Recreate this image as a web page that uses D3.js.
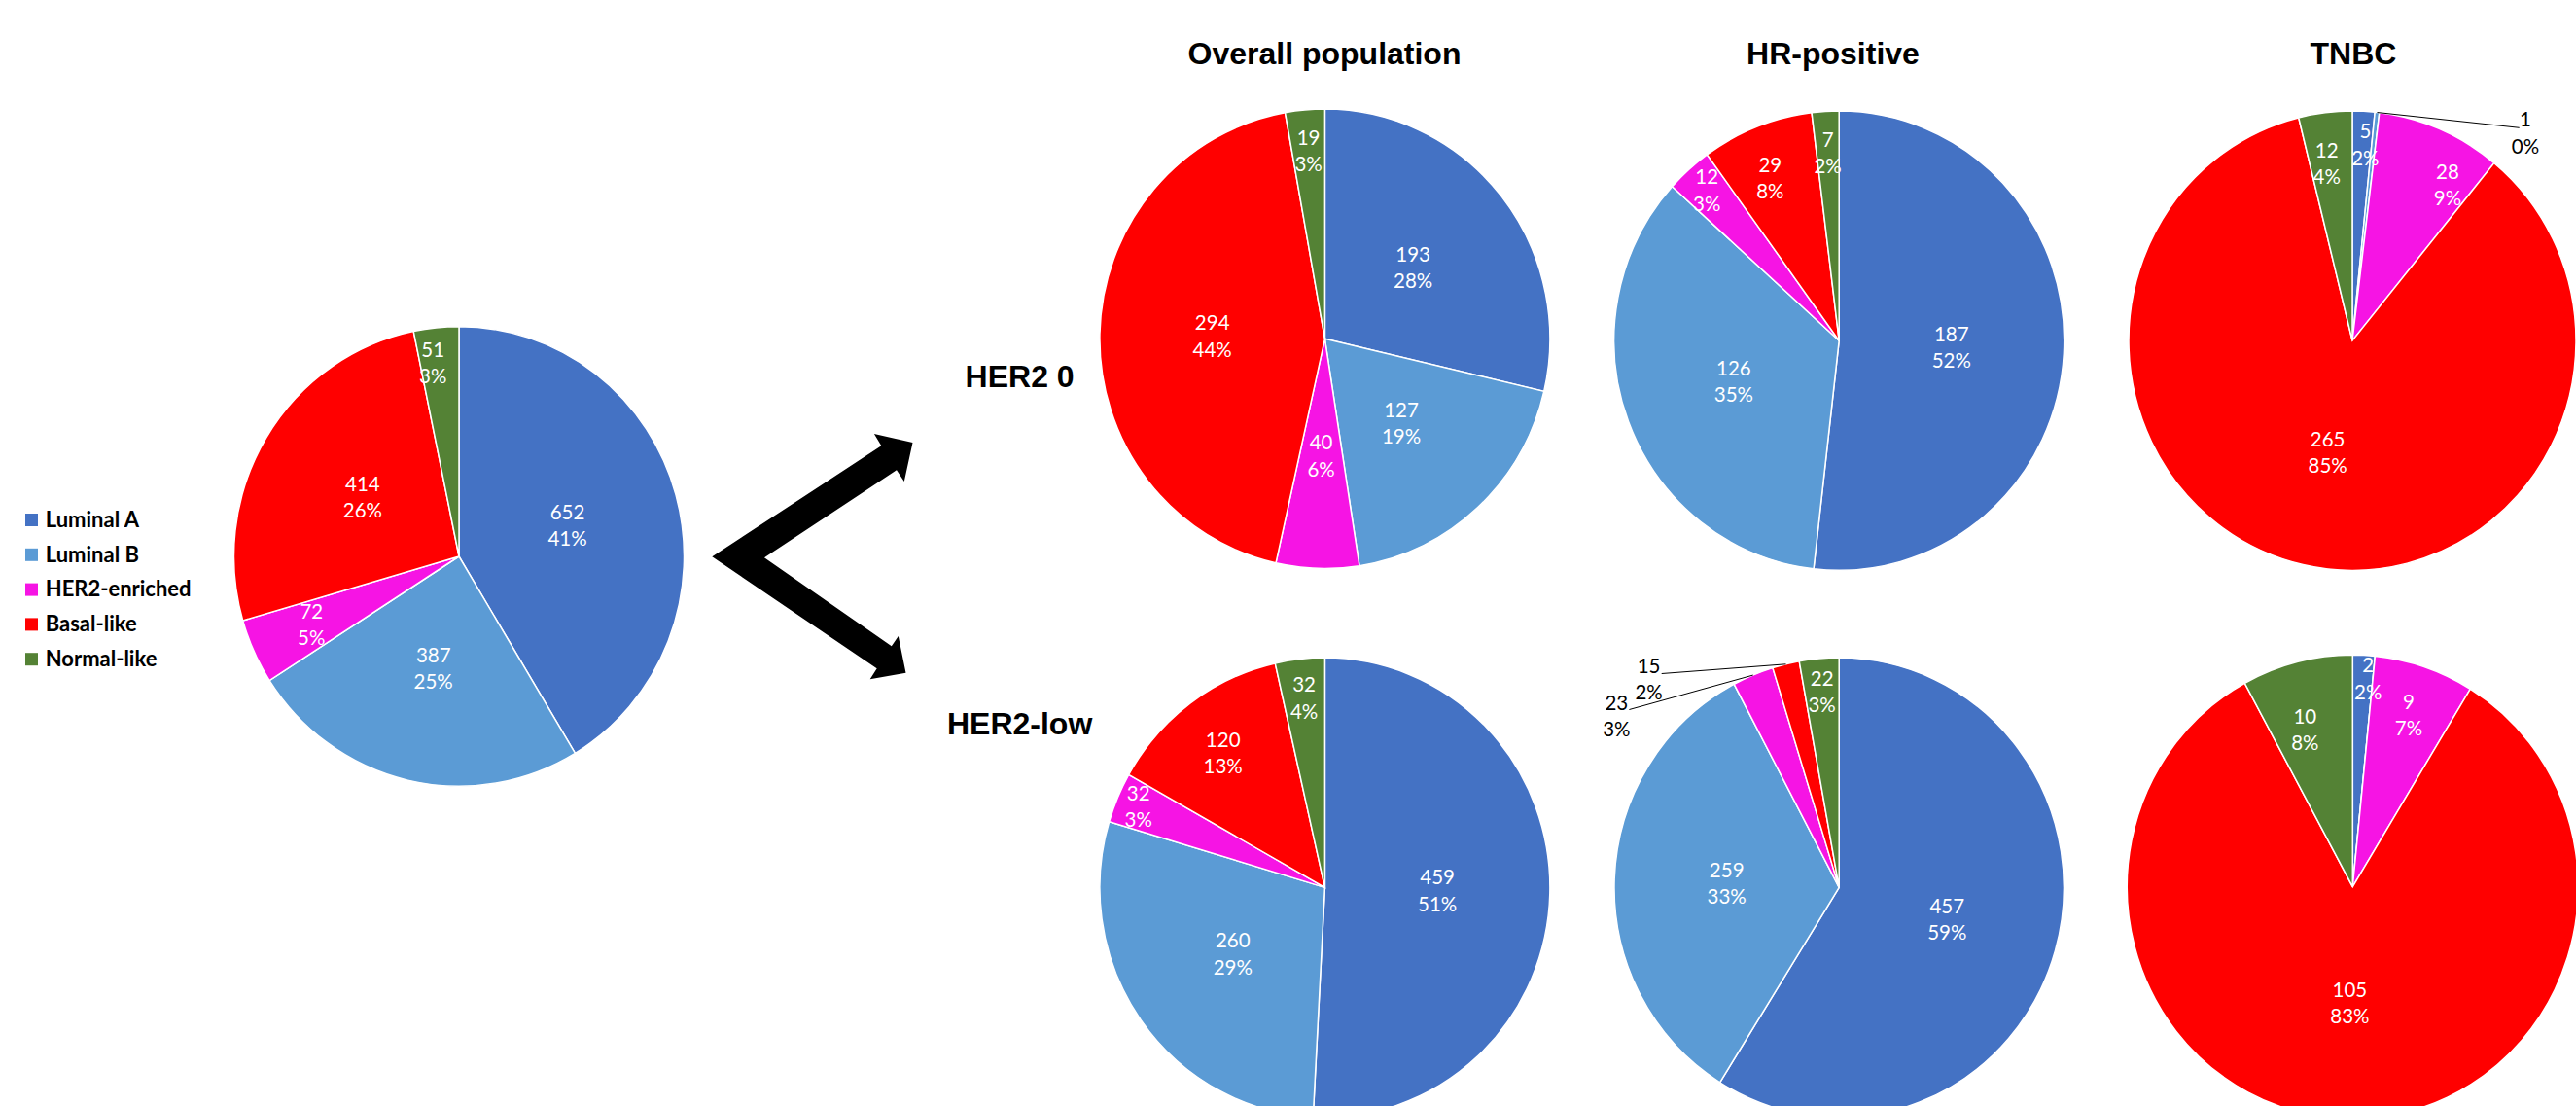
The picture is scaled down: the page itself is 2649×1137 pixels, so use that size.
<!DOCTYPE html>
<html>
<head>
<meta charset="utf-8">
<script src="https://cdn.jsdelivr.net/npm/d3@7"></script>
<style>
  html, body { margin: 0; padding: 0; background: #fff; overflow: hidden; }
  svg { display: block; }
</style>
</head>
<body>
<svg id="chart" width="2649" height="1137"></svg>
<script>
// ---- Data ---------------------------------------------------------------
const subtypes = ["Luminal A", "Luminal B", "HER2-enriched", "Basal-like", "Normal-like"];

// Whole cohort
const allCounts = [652, 387, 72, 414, 51];
const allPct    = ["41%", "25%", "5%", "26%", "3%"];

// HER2 0
const her2ZeroOverall    = [193, 127, 40, 294, 19];
const her2ZeroOverallPct = ["28%", "19%", "6%", "44%", "3%"];
const her2ZeroHR         = [187, 126, 12, 29, 7];
const her2ZeroHRPct      = ["52%", "35%", "3%", "8%", "2%"];
const her2ZeroTNBC       = [5, 1, 28, 265, 12];
const her2ZeroTNBCPct    = ["2%", "0%", "9%", "85%", "4%"];

// HER2-low
const her2LowOverall    = [459, 260, 32, 120, 32];
const her2LowOverallPct = ["51%", "29%", "3%", "13%", "4%"];
const her2LowHR         = [457, 259, 23, 15, 22];
const her2LowHRPct      = ["59%", "33%", "3%", "2%", "3%"];
const her2LowTNBC       = [2, 0, 9, 105, 10];
const her2LowTNBCPct    = ["2%", "0%", "7%", "83%", "8%"];

const columnTitles = ["Overall population", "HR-positive", "TNBC"];
const rowTitles    = ["HER2 0", "HER2-low"];

// ---- Styles -------------------------------------------------------------
const color = d3.scaleOrdinal()
  .domain(subtypes)
  .range(["#4472C4", "#5B9BD5", "#F614E4", "#FF0000", "#548235"]);

const TITLE_FONT = "'Liberation Sans', Arial, sans-serif";
const LABEL_FONT = "Lato, 'Open Sans', sans-serif";
const LABEL = { font: 20.5, gap: 27.4, cap: 14.7 };

const svg = d3.select("#chart");

// Draw one pie: slices clockwise from 12 o'clock, two-line labels
// (count, share) placed along each slice's bisector.
function drawPie(parent, cfg) {
  const { values, pcts, cx, cy, rx, ry, place, font, gap, cap, outside } = cfg;
  const arcs = d3.pie().sort(null).value(d => d)(values);
  const g = parent.append("g").attr("transform", `translate(${cx},${cy})`);
  const arc = d3.arc().innerRadius(0).outerRadius(rx);

  g.append("g")
    .attr("transform", `scale(1,${ry / rx})`)
    .selectAll("path")
    .data(arcs)
    .join("path")
    .attr("d", arc)
    .attr("fill", (d, i) => color(subtypes[i]))
    .attr("stroke", "#fff")
    .attr("stroke-width", 1.5)
    .attr("vector-effect", "non-scaling-stroke");

  arcs.forEach((d, i) => {
    if (d.value === 0) return;
    const mid = (d.startAngle + d.endAngle) / 2;
    const o = outside && outside[i];
    let x, y1, fill;
    if (o) {
      // label outside the pie, joined to the slice rim by a leader line
      const sx = rx * Math.sin(mid), sy = -ry * Math.cos(mid);
      g.append("line")
        .attr("x1", sx).attr("y1", sy)
        .attr("x2", o.lx).attr("y2", o.ly)
        .attr("stroke", "#000").attr("stroke-width", 1);
      x = o.x; y1 = o.y; fill = "#000";
    } else {
      const p = place[i];
      const r = Array.isArray(p) ? p[0] : p;
      const a = mid + (Array.isArray(p) ? p[1] * Math.PI / 180 : 0);
      x = rx * r * Math.sin(a);
      const yc = -ry * r * Math.cos(a);
      y1 = yc - (gap + cap) / 2 + cap;
      fill = "#fff";
    }
    const t = g.append("text")
      .attr("text-anchor", "middle")
      .attr("font-family", LABEL_FONT)
      .attr("font-size", font)
      .attr("fill", fill);
    t.append("tspan").attr("x", x).attr("y", y1).text(d.value);
    t.append("tspan").attr("x", x).attr("y", y1 + gap).text(pcts[i]);
  });
}

// ---- Whole cohort with legend ------------------------------------------
drawPie(svg, Object.assign({
  values: allCounts, pcts: allPct,
  cx: 472, cy: 572, rx: 231.5, ry: 236.3,
  place: [0.5, 0.5, 0.72, 0.5, [0.85, -2]]
}, LABEL));

const legend = svg.append("g").attr("transform", "translate(26,541.7)");
const item = legend.selectAll("g")
  .data(subtypes)
  .join("g")
  .attr("transform", (d, i) => `translate(0,${i * 35.8})`);
item.append("rect")
  .attr("x", 0).attr("y", -13.7).attr("width", 13).attr("height", 13)
  .attr("fill", d => color(d));
item.append("text")
  .attr("x", 20.7).attr("y", 0)
  .attr("font-family", LABEL_FONT)
  .attr("font-weight", 700)
  .attr("font-size", 22)
  .attr("fill", "#000")
  .text(d => d);

// ---- Branching arrow ---------------------------------------------------
svg.append("path")
  .attr("d", "M732.3,572.3 L906.3,458.3 L898.9,446 L938.5,455 L929.8,495 L922,483.3 " +
             "L786,573.3 L916.8,664.3 L923.8,654 L931.5,691.7 L894.7,698.3 L901.7,687.3 Z")
  .attr("fill", "#000");

// ---- Titles -------------------------------------------------------------
const colX = [1362, 1885, 2420];
svg.selectAll("text.col-title")
  .data(columnTitles)
  .join("text")
  .attr("class", "col-title")
  .attr("x", (d, i) => colX[i])
  .attr("y", 65.7)
  .attr("text-anchor", "middle")
  .attr("font-family", TITLE_FONT)
  .attr("font-weight", 700)
  .attr("font-size", 32)
  .text(d => d);

const rowY = [397.7, 755];
svg.selectAll("text.row-title")
  .data(rowTitles)
  .join("text")
  .attr("class", "row-title")
  .attr("x", 1048.6)
  .attr("y", (d, i) => rowY[i])
  .attr("text-anchor", "middle")
  .attr("font-family", TITLE_FONT)
  .attr("font-weight", 700)
  .attr("font-size", 32)
  .text(d => d);

// ---- Subgroup pies ------------------------------------------------------
drawPie(svg, Object.assign({
  values: her2ZeroOverall, pcts: her2ZeroOverallPct,
  cx: 1362.4, cy: 348.3, rx: 231.5, ry: 236.2,
  place: [0.5, 0.5, 0.51, 0.5, 0.82]
}, LABEL));

drawPie(svg, Object.assign({
  values: her2ZeroHR, pcts: her2ZeroHRPct,
  cx: 1891.2, cy: 350.2, rx: 231.5, ry: 236.1,
  place: [0.5, 0.5, 0.88, [0.77, -2], 0.82]
}, LABEL));

drawPie(svg, Object.assign({
  values: her2ZeroTNBC, pcts: her2ZeroTNBCPct,
  cx: 2419, cy: 350.2, rx: 230, ry: 236.1,
  place: [[0.856, 1], 0, [0.8, 9], 0.5, [0.78, -1.5]],
  outside: [null, { x: 178, y: -220, lx: 171.7, ly: -218.9 }, null, null, null]
}, LABEL));

drawPie(svg, Object.assign({
  values: her2LowOverall, pcts: her2LowOverallPct,
  cx: 1362.4, cy: 912.4, rx: 231.5, ry: 236.3,
  place: [0.5, 0.5, 0.9, [0.74, -1], 0.83]
}, LABEL));

drawPie(svg, Object.assign({
  values: her2LowHR, pcts: her2LowHRPct,
  cx: 1891.2, cy: 912.4, rx: 231.2, ry: 236.3,
  place: [0.5, 0.5, 0, 0, 0.854],
  outside: [null, null,
            { x: -228.9, y: -182.9, lx: -215.8, ly: -182.9 },
            { x: -195.6, y: -220.6, lx: -182.5, ly: -219.9 },
            null]
}, LABEL));

drawPie(svg, Object.assign({
  values: her2LowTNBC, pcts: her2LowTNBCPct,
  cx: 2419.3, cy: 911.7, rx: 232, ry: 238.4,
  place: [[0.9, 1.5], 0, 0.78, 0.5, [0.71, -3]]
}, LABEL));
</script>
</body>
</html>
